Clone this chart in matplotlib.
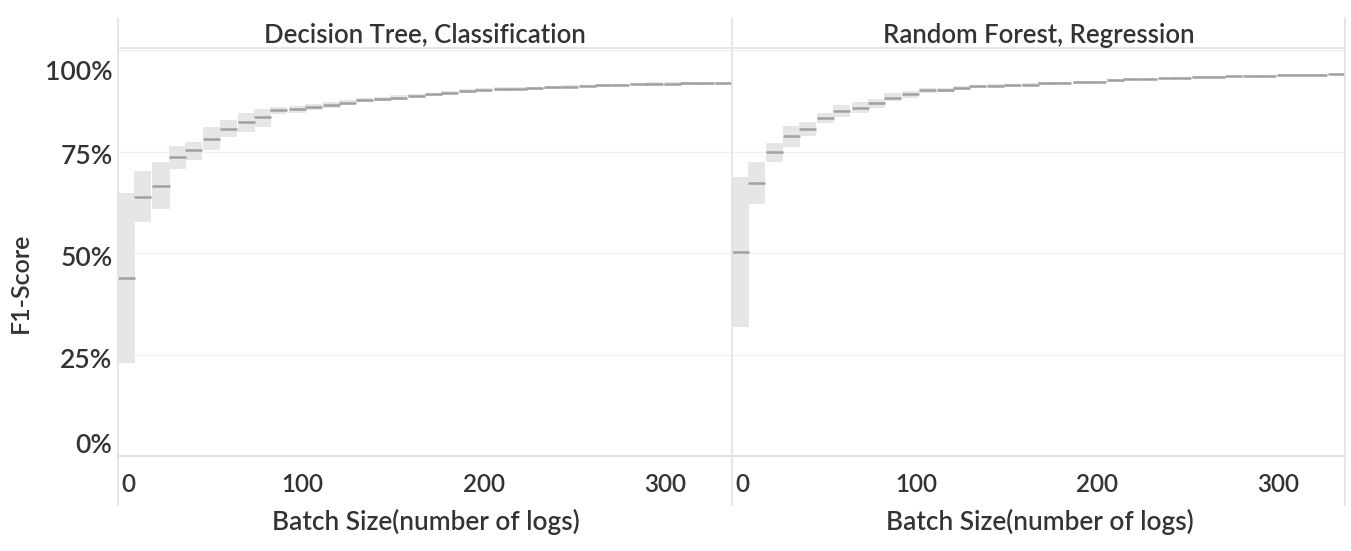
import matplotlib
matplotlib.use("Agg")
import matplotlib.pyplot as plt
from matplotlib.lines import Line2D
from matplotlib.transforms import ScaledTranslation

# ---- data -------------------------------------------------------------
panel_titles = ["Decision Tree, Classification", "Random Forest, Regression"]
x_label = "Batch Size(number of logs)"
y_label = "F1-Score"
x_ticks = [0, 100, 200, 300]
y_ticks = [0, 0.25, 0.5, 0.75, 1.0]
y_tick_labels = ["0%", "25%", "50%", "75%", "100%"]

batch_sizes = [3, 12, 22, 31, 40, 50, 59, 69, 78, 87, 97, 106, 116, 125, 134, 144,
               153, 163, 172, 181, 191, 200, 210, 219, 228, 238, 247, 257, 266, 275,
               285, 294, 304, 313, 322, 332]

dt_upper = [0.649, 0.703, 0.723, 0.764, 0.773, 0.811, 0.828, 0.846, 0.855, 0.860, 0.862,
            0.867, 0.871, 0.876, 0.881, 0.884, 0.888, 0.892, 0.895, 0.899, 0.903, 0.906,
            0.908, 0.909, 0.910, 0.912, 0.914, 0.915, 0.916, 0.917, 0.919, 0.920, 0.920,
            0.921, 0.921, 0.921]
dt_median = [0.438, 0.638, 0.665, 0.736, 0.753, 0.782, 0.806, 0.822, 0.834, 0.851, 0.854,
             0.860, 0.864, 0.870, 0.876, 0.879, 0.883, 0.887, 0.891, 0.895, 0.899, 0.902,
             0.904, 0.905, 0.906, 0.908, 0.910, 0.912, 0.913, 0.914, 0.916, 0.917, 0.917,
             0.918, 0.918, 0.918]
dt_lower = [0.228, 0.576, 0.609, 0.706, 0.729, 0.754, 0.785, 0.797, 0.810, 0.843, 0.846,
            0.853, 0.857, 0.864, 0.871, 0.874, 0.878, 0.882, 0.887, 0.891, 0.895, 0.898,
            0.900, 0.901, 0.902, 0.904, 0.906, 0.909, 0.910, 0.911, 0.913, 0.914, 0.914,
            0.915, 0.915, 0.915]

rf_upper = [0.688, 0.723, 0.772, 0.814, 0.823, 0.844, 0.865, 0.871, 0.879, 0.893, 0.899,
            0.907, 0.907, 0.911, 0.915, 0.916, 0.917, 0.918, 0.921, 0.922, 0.923, 0.924,
            0.928, 0.930, 0.931, 0.932, 0.934, 0.935, 0.936, 0.937, 0.938, 0.939, 0.940,
            0.941, 0.941, 0.942]
rf_median = [0.502, 0.672, 0.748, 0.787, 0.806, 0.832, 0.849, 0.858, 0.869, 0.883, 0.892,
             0.901, 0.902, 0.907, 0.911, 0.912, 0.913, 0.915, 0.918, 0.919, 0.920, 0.921,
             0.925, 0.928, 0.929, 0.930, 0.932, 0.933, 0.934, 0.935, 0.936, 0.937, 0.938,
             0.939, 0.939, 0.940]
rf_lower = [0.318, 0.621, 0.725, 0.760, 0.787, 0.820, 0.834, 0.844, 0.856, 0.874, 0.881,
            0.894, 0.897, 0.902, 0.906, 0.908, 0.909, 0.911, 0.915, 0.916, 0.917, 0.918,
            0.922, 0.925, 0.927, 0.928, 0.930, 0.931, 0.932, 0.933, 0.934, 0.935, 0.936,
            0.937, 0.937, 0.938]

panels = [(dt_lower, dt_median, dt_upper), (rf_lower, rf_median, rf_upper)]

# ---- style ------------------------------------------------------------
FONT = ["Lato", "DejaVu Sans"]
plt.rcParams["font.family"] = FONT
WEIGHT = "semibold"
TEXT = "#333333"
BOX = "#e6e6e6"
MED = "#a0a0a0"
GRID = "#f0f0f0"
LINE = "#e2e2e2"
BOX_W = 9.4

W, H = 1351, 551
fig = plt.figure(figsize=(W / 100, H / 100), dpi=100)

def fx(px):
    return px / W

def fy(py):
    return 1 - py / H

ax_top, ax_bot = 50, 456
lefts = [118, 732]
rights = [732, 1345]

for i, (lo, med, up) in enumerate(panels):
    ax = fig.add_axes([fx(lefts[i]), fy(ax_bot), fx(rights[i] - lefts[i]),
                       (ax_bot - ax_top) / H])
    heights = [u - l for u, l in zip(up, lo)]
    ax.bar(batch_sizes, heights, bottom=lo, width=BOX_W, color=BOX,
           edgecolor="none", zorder=2)
    ax.hlines(med, [b - BOX_W / 2 for b in batch_sizes],
              [b + BOX_W / 2 for b in batch_sizes], colors=MED, lw=1.8, zorder=3)
    ax.set_xlim(batch_sizes[0] - BOX_W / 2, batch_sizes[-1] + BOX_W / 2)
    ax.set_ylim(0, 1)
    for sp in ax.spines.values():
        sp.set_visible(False)
    ax.set_xticks(x_ticks)
    ax.set_xticklabels([str(t) for t in x_ticks], fontsize=17.5, color=TEXT,
                       fontweight=WEIGHT)
    ax.tick_params(axis="both", length=0)
    ax.tick_params(axis="x", pad=12)
    lbl0 = ax.get_xticklabels()[0]
    lbl0.set_transform(lbl0.get_transform() +
                       ScaledTranslation(0.07, 0, fig.dpi_scale_trans))
    ax.set_yticks(y_ticks)
    if i == 0:
        ax.set_yticklabels(y_tick_labels, fontsize=19, color=TEXT, fontweight=WEIGHT)
        ax.tick_params(axis="y", pad=4)
        ylabels = ax.get_yticklabels()
        ylabels[0].set_transform(ylabels[0].get_transform() +
                                 ScaledTranslation(0, 0.13, fig.dpi_scale_trans))
        ylabels[-1].set_transform(ylabels[-1].get_transform() +
                                  ScaledTranslation(0, -0.20, fig.dpi_scale_trans))
        for lb in ylabels[1:-1]:
            lb.set_transform(lb.get_transform() +
                             ScaledTranslation(0, -0.03, fig.dpi_scale_trans))
    else:
        ax.set_yticklabels([])
    ax.grid(axis="y", color=GRID, lw=1.0, zorder=0)
    ax.set_axisbelow(True)
    cx = (lefts[i] + rights[i]) / 2
    fig.text(fx(cx), fy(35), panel_titles[i], ha="center", va="center",
             fontsize=18.5, color=TEXT, fontweight=WEIGHT)
    fig.text(fx(cx + 1), fy(522), x_label, ha="center", va="center",
             fontsize=18.8, color=TEXT, fontweight=WEIGHT)

fig.text(fx(20), fy(283), y_label, rotation=90, ha="center", va="center",
         fontsize=18, color=TEXT, fontweight=WEIGHT)

# pane borders
for xv in [118, 732, 1345]:
    fig.add_artist(Line2D([fx(xv), fx(xv)], [fy(18), fy(505)], color=LINE, lw=1.2))
fig.add_artist(Line2D([fx(118), fx(1345)], [fy(48), fy(48)], color=LINE, lw=1.2))
fig.add_artist(Line2D([fx(118), fx(1345)], [fy(456), fy(456)], color=LINE, lw=1.5))

fig.savefig("out.png", dpi=100, facecolor="white")
